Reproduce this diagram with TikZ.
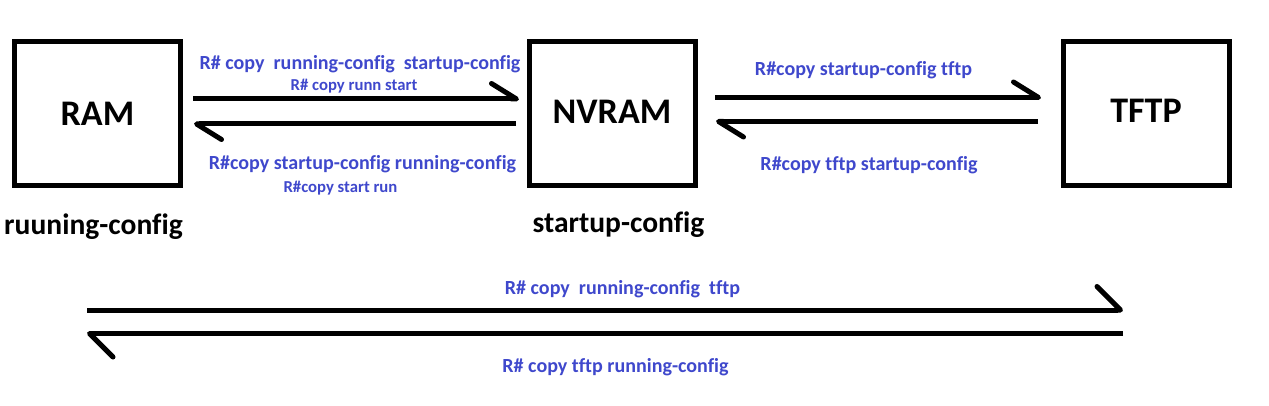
\documentclass[tikz,border=0pt]{standalone}
\usepackage{fontspec}
\setmainfont{Carlito}[Ligatures=CommonOff]
\usetikzlibrary{arrows.meta,positioning}
\definecolor{cmdblue}{RGB}{63,72,204}
\begin{document}
\begin{tikzpicture}[node distance=10.29cm]
    \tikzset{
        membox/.style = {rectangle, line width=0.1cm, minimum width=3.32cm, minimum height=2.88cm, text centered, draw=black, font=\fontsize{20.5}{24}\selectfont\bfseries},
        memname/.style = {anchor=base, inner sep=0pt, font=\fontsize{16.8}{20}\selectfont\bfseries},
        cmd/.style = {midway, anchor=base, inner sep=0pt, text=cmdblue, font=\fontsize{11.4}{14}\selectfont\bfseries},
        cmdshort/.style = {cmd, font=\fontsize{9.5}{12}\selectfont\bfseries},
        arrow/.style = {line width=0.1cm, -{Straight Barb[harpoon, round, length=0.5cm, width=0.62cm]}},
        longarrow/.style = {line width=0.1cm, -{Straight Barb[harpoon, round, length=0.47cm, width=0.94cm]}}
    }
    \useasboundingbox (0,0) rectangle (25.38,-8.12);

    \node (ram) [membox] at (1.95,-2.27) {RAM};
    \node (nvram) [membox, right of=ram] {\raisebox{0.05cm}{NVRAM}};
    \node (tftp) [membox, right of=nvram, xshift=0.39cm] {\raisebox{0.11cm}{TFTP}};
    \node (ramcfg) [memname] at ([shift={(-0.08,-0.94)}]ram.south) {ruuning-config};
    \node (nvramcfg) [memname] at ([shift={(0.13,-0.90)}]nvram.south) {startup-config};

    % RAM <-> NVRAM
    \coordinate (r1) at ([shift={(0.2,0.29)}]ram.east);
    \coordinate (n1) at ([shift={(-0.15,0.29)}]nvram.west);
    \coordinate (n2) at ([shift={(-0.21,-0.21)}]nvram.west);
    \coordinate (r2) at ([shift={(0.22,-0.21)}]ram.east);
    % NVRAM <-> TFTP
    \coordinate (n3) at ([shift={(0.35,0.32)}]nvram.east);
    \coordinate (t1) at ([shift={(-0.39,0.32)}]tftp.west);
    \coordinate (t2) at ([shift={(-0.45,-0.16)}]tftp.west);
    \coordinate (n4) at ([shift={(0.37,-0.16)}]nvram.east);
    % RAM <-> TFTP
    \coordinate (r3) at ([shift={(-0.21,-2.44)}]ram.south);
    \coordinate (t3) at ([shift={(-0.46,-2.44)}]tftp.south);
    \coordinate (t4) at ([shift={(-0.46,-2.91)}]tftp.south);
    \coordinate (r4) at ([shift={(-0.21,-2.91)}]ram.south);

    \draw [arrow] (r1) -- node[cmd, xshift=0.08cm, yshift=0.58cm] (runstart) {R\#\ copy\ \ running-config\ \ startup-config} node[cmdshort, xshift=-0.04cm, yshift=0.16cm] (runstartshort) {R\# copy runn start} (n1);
    \draw [arrow] (n2) -- node[cmd, xshift=0.15cm, yshift=-0.92cm] (startrun) {R\#copy startup-config running-config} node[cmdshort, xshift=-0.29cm, yshift=-1.38cm] (startrunshort) {R\#copy start run} (r2);
    \draw [arrow] (n3) -- node[cmd, xshift=-0.29cm, yshift=0.43cm] (starttftp) {R\#copy startup-config tftp} (t1);
    \draw [arrow] (t2) -- node[cmd, xshift=-0.16cm, yshift=-0.99cm] (tftpstart) {R\#copy tftp startup-config} (n4);

    \draw [longarrow] (r3) -- node[cmd, xshift=0.35cm, yshift=0.30cm] (runtftp) {R\#\ copy\ \ running-config\ \ tftp} (t3);
    \draw [longarrow] (t4) -- node[cmd, xshift=0.21cm, yshift=-0.77cm] (tftprun) {R\# copy tftp running-config} (r4);

\end{tikzpicture}
\end{document}
